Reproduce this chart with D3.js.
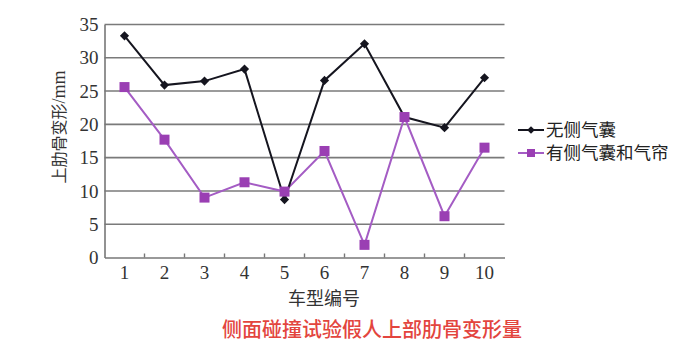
<!DOCTYPE html>
<html><head><meta charset="utf-8">
<script src="https://cdn.jsdelivr.net/npm/d3@7/dist/d3.min.js"></script>
<style>html,body{margin:0;padding:0;background:#fff;}svg{display:block;}</style>
</head><body>
<svg id="c" width="700" height="349"></svg>
<script>
const categories = ["1","2","3","4","5","6","7","8","9","10"];
const noAirbag = [33.3, 25.9, 26.5, 28.3, 8.7, 26.6, 32.1, 21.1, 19.5, 27.0];
const withAirbag = [25.6, 17.7, 9.0, 11.3, 9.9, 16.0, 1.9, 21.1, 6.2, 16.5];
const yTicks = [0, 5, 10, 15, 20, 25, 30, 35];
const seriesNames = ["无侧气囊", "有侧气囊和气帘"];
const yTitleCjk = "上肋骨变形";
const yTitleUnit = "/mm";
const xTitle = "车型编号";
const caption = "侧面碰撞试验假人上部肋骨变形量";

const svg = d3.select("#c");
const L = 104.5, R = 504.5, T = 24.5, B = 257.5;
const x = d3.scaleBand().domain(categories).range([L, R]);
const y = d3.scaleLinear().domain([0, 35]).range([B, T]);
const serif = "'Liberation Serif','DejaVu Serif',serif";
const cjk = "'Noto Sans CJK SC','Noto Sans',sans-serif";

// grid
svg.append("g").selectAll("line").data(yTicks.filter(d => d > 0)).join("line")
  .attr("x1", L).attr("x2", R).attr("y1", d => y(d)).attr("y2", d => y(d))
  .attr("stroke", "#7a7a7a").attr("stroke-width", 1.6);

// y axis
const ya = svg.append("g").attr("transform", `translate(${L},0)`)
  .call(d3.axisLeft(y).tickValues(yTicks).tickSize(0).tickPadding(6));
ya.select(".domain").attr("stroke", "#777").attr("stroke-width", 1.6);
ya.selectAll("text").attr("font-family", serif).attr("font-size", 19).attr("fill", "#333");

// x axis
const xa = svg.append("g").attr("transform", `translate(0,${B})`)
  .call(d3.axisBottom(x).tickSize(0).tickPadding(8));
xa.select(".domain").attr("stroke", "#777").attr("stroke-width", 1.6);
xa.selectAll("text").attr("font-family", serif).attr("font-size", 19).attr("fill", "#333");
// band boundary ticks pointing up
svg.append("g").selectAll("line").data(categories.slice(1)).join("line")
  .attr("x1", d => x(d)).attr("x2", d => x(d)).attr("y1", B).attr("y2", B - 4)
  .attr("stroke", "#777").attr("stroke-width", 1.4);

const cx = d => x(d) + x.bandwidth() / 2;
const line = d3.line().x(d => cx(d[0])).y(d => y(d[1]));

const purpleLine = "#a45cc4", purpleMark = "#9a3fb3", black = "#15151f";

// series 2 (purple)
const d2 = categories.map((c, i) => [c, withAirbag[i]]);
svg.append("path").datum(d2).attr("d", line).attr("fill", "none")
  .attr("stroke", purpleLine).attr("stroke-width", 2);
// series 1 (black)
const d1 = categories.map((c, i) => [c, noAirbag[i]]);
svg.append("path").datum(d1).attr("d", line).attr("fill", "none")
  .attr("stroke", black).attr("stroke-width", 2);

svg.append("g").selectAll("path").data(d1).join("path")
  .attr("transform", d => `translate(${cx(d[0])},${y(d[1])}) rotate(45)`)
  .attr("d", d3.symbol().type(d3.symbolSquare).size(42)).attr("fill", black);
svg.append("g").selectAll("rect").data(d2).join("rect")
  .attr("x", d => cx(d[0]) - 5).attr("y", d => y(d[1]) - 5)
  .attr("width", 10).attr("height", 10).attr("fill", purpleMark);

// legend
const lg = svg.append("g");
const rows = [{n: seriesNames[0], c: black, t: "d", yy: 130}, {n: seriesNames[1], c: purpleLine, t: "s", yy: 153}];
rows.forEach(r => {
  lg.append("line").attr("x1", 518).attr("x2", 544).attr("y1", r.yy).attr("y2", r.yy)
    .attr("stroke", r.c).attr("stroke-width", 2);
  if (r.t === "d") {
    lg.append("path").attr("transform", `translate(531,${r.yy}) rotate(45)`)
      .attr("d", d3.symbol().type(d3.symbolSquare).size(30)).attr("fill", black);
  } else {
    lg.append("rect").attr("x", 527).attr("y", r.yy - 4).attr("width", 8).attr("height", 8).attr("fill", purpleMark);
  }
  lg.append("text").attr("x", 546).attr("y", r.yy).attr("dy", "0.36em")
    .attr("font-family", cjk).attr("font-size", 17.5).attr("fill", "#222").text(r.n);
});

// y title
const yt = svg.append("text").attr("transform", "translate(59,127) rotate(-90)")
  .attr("text-anchor", "middle").attr("dy", "0.36em").attr("fill", "#333");
yt.append("tspan").attr("font-family", cjk).attr("font-size", 16).text(yTitleCjk);
yt.append("tspan").attr("font-family", serif).attr("font-size", 18).text(yTitleUnit);
// x title
svg.append("text").attr("x", 324).attr("y", 299).attr("text-anchor", "middle").attr("dy", "0.36em")
  .attr("font-family", cjk).attr("font-size", 18).attr("fill", "#333").text(xTitle);
// caption
svg.append("text").attr("x", 372).attr("y", 330).attr("text-anchor", "middle").attr("dy", "0.36em")
  .attr("font-family", cjk).attr("font-size", 20).attr("font-weight", 500).attr("fill", "#e3453e").text(caption);
</script>
</body></html>
